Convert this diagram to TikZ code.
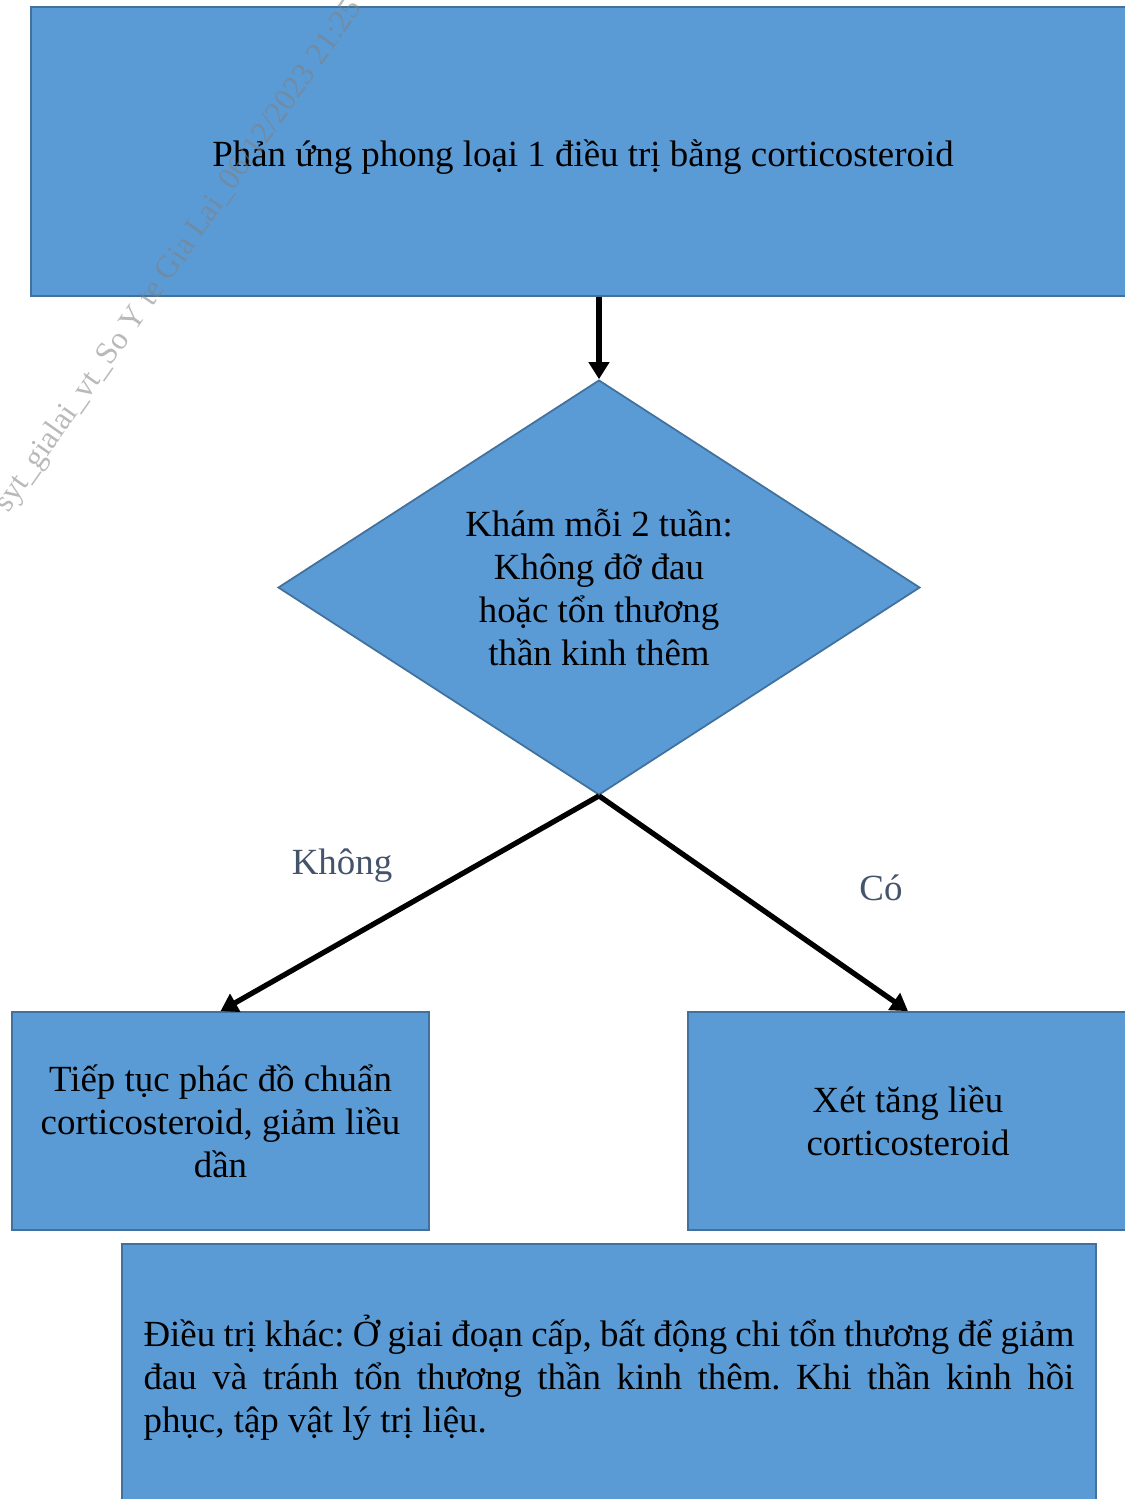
\documentclass[tikz,border=0pt]{standalone}
\usepackage{fontspec}
\setmainfont{Liberation Serif}
\usetikzlibrary{shapes.geometric,arrows.meta}
\definecolor{boxfill}{HTML}{5B9BD5}
\definecolor{boxline}{HTML}{41719C}
\definecolor{lblcol}{HTML}{44546A}
\frenchspacing
\tikzset{
  box/.style={draw=boxline,fill=boxfill,line width=1pt,align=center,inner sep=0pt,
    font=\fontsize{21}{24.4}\selectfont},
  decision/.style={box,diamond,aspect=1.55},
  arr/.style={line width=3pt,-{Triangle[length=3.4mm,width=4mm]}},
  lbl/.style={text=lblcol,font=\fontsize{21}{24.4}\selectfont}
}
\begin{document}
\begin{tikzpicture}[x=0.02cm,y=-0.02cm]
\useasboundingbox (0,0) rectangle (1125,1499);
\node [box,minimum width=22.08cm,minimum height=5.78cm] (phanung) at (583,151.5)
  {\raisebox{-3pt}[\height][\depth]{Phản ứng phong loại 1 điều trị bằng corticosteroid}};
\node [decision,minimum width=12.84cm,minimum height=8.3cm] (kham) at (599,587.5)
  {Khám mỗi 2 tuần:\\ Không đỡ đau\\ hoặc tổn thương\\ thần kinh thêm};
\node [box,minimum width=8.34cm,minimum height=4.36cm] (tieptuc) at (220.5,1121)
  {Tiếp tục phác đồ chuẩn\\ corticosteroid, giảm liều\\ dần};
\node [box,minimum width=8.8cm,minimum height=4.36cm] (tanglieu) at (908,1121)
  {Xét tăng liều\\ corticosteroid};
\node [box,minimum width=19.48cm,minimum height=5.36cm,text width=18.62cm,align=justify] (khac) at (609,1378)
  {Điều trị khác: Ở giai đoạn cấp, bất động chi tổn thương để giảm\linebreak đau và tránh tổn thương thần kinh thêm. Khi thần kinh hồi\linebreak phục, tập vật lý trị liệu.};

\draw [arr] (kham.north |- phanung.south) -- (kham.north);
\draw [arr] (kham.south) -- (tieptuc.north);
\draw [arr] (kham.south) -- (tanglieu.north);

\node [lbl] (khong) at (342,866) {Không};
\node [lbl] (co) at (881,888) {Có};

% dau chim
\node [rotate=55,anchor=base west,text=gray,opacity=.55,inner sep=0pt,
  font=\fontsize{18}{20}\selectfont] (dau) at (8,514)
  {syt\_gialai\_vt\_So Y te Gia Lai\_06/12/2023 21:25};
\end{tikzpicture}
\end{document}
